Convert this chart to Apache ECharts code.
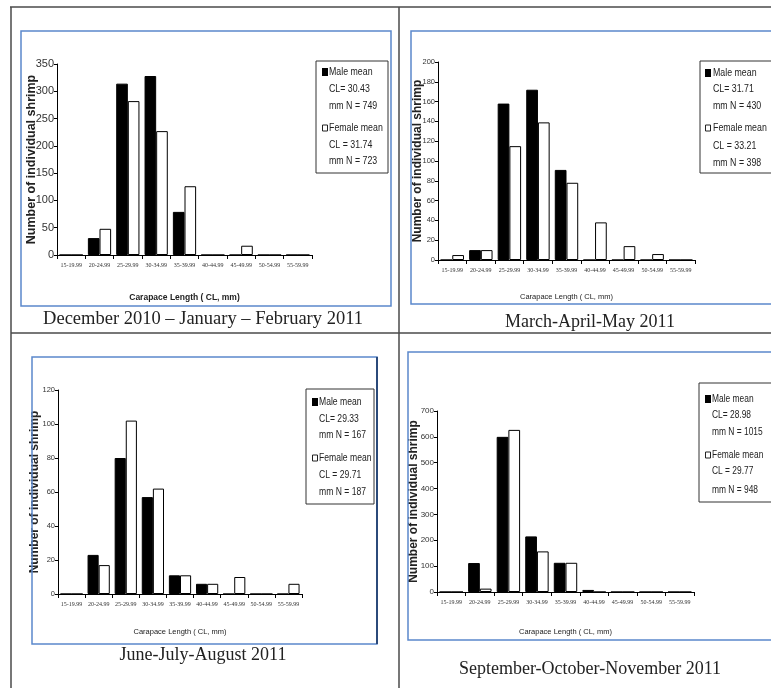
<!DOCTYPE html>
<html>
<head>
<meta charset="utf-8">
<script src="https://cdn.jsdelivr.net/npm/echarts@6/dist/echarts.min.js"></script>
<style>
  html, body { margin: 0; padding: 0; background: #fff; }
  #chart { width: 771px; height: 688px; }
</style>
</head>
<body>
<div id="chart"></div>
<script>
// Carapace-length size classes (mm)
const categories = ['15-19.99', '20-24.99', '25-29.99', '30-34.99', '35-39.99',
                    '40-44.99', '45-49.99', '50-54.99', '55-59.99'];

// Seasonal sampling periods
const seasons = ['December 2010 \u2013 January \u2013 February 2011',
                 'March-April-May 2011',
                 'June-July-August 2011',
                 'September-October-November 2011'];

// Number of shrimp per size class
const maleDecFeb   = [0, 31, 314, 328, 79, 0, 0, 0, 0];
const femaleDecFeb = [0, 48, 282, 227, 126, 0, 17, 0, 0];
const maleMarMay   = [0, 10, 158, 172, 91, 0, 0, 0, 0];
const femaleMarMay = [5, 10, 115, 139, 78, 38, 14, 6, 0];
const maleJunAug   = [0, 23, 80, 57, 11, 6, 0, 0, 0];
const femaleJunAug = [0, 17, 102, 62, 11, 6, 10, 0, 6];
const maleSepNov   = [0, 112, 600, 215, 113, 8, 0, 0, 0];
const femaleSepNov = [0, 13, 627, 157, 113, 0, 0, 0, 0];

// Mean carapace length and sample size per season
const maleMeanCL   = ['30.43', '31.71', '29.33', '28.98'];
const femaleMeanCL = ['31.74', '33.21', '29.71', '29.77'];
const maleN   = [749, 430, 167, 1015];
const femaleN = [723, 398, 187, 948];

// Value-axis ranges
const yMax  = [350, 200, 120, 700];
const yStep = [50, 20, 20, 100];

const maleSeries   = [maleDecFeb, maleMarMay, maleJunAug, maleSepNov];
const femaleSeries = [femaleDecFeb, femaleMarMay, femaleJunAug, femaleSepNov];

// ---- fonts ----
const SANS = '"Liberation Sans", "DejaVu Sans", sans-serif';
const SERIF = '"Liberation Serif", "DejaVu Serif", serif';

// ---- layout of the four table cells ----
const layout = [
  { grid: { left: 57, top: 64, width: 255, height: 191 },
    box: [21, 31, 370, 275], shadeRight: false,
    legend: { box: [316, 61, 72, 112], iconX: 322, textX: 329, font: 11, squeeze: 0.8,
              lines: [72, 89, 106, 128, 145, 161] },
    caption: [203, 319, 18.5],
    yLabelSize: 11, xNameBold: true, xNameSize: 8.5, xNameGap: 38, yNameGap: 19, yNameSize: 12.5 },
  { grid: { left: 438, top: 62, width: 257, height: 198 },
    box: [411, 31, 364, 273], shadeRight: false,
    legend: { box: [700, 61, 75, 112], iconX: 705, textX: 713, font: 11, squeeze: 0.8,
              lines: [73, 89, 106, 128, 146, 163] },
    caption: [590, 322, 18],
    yLabelSize: 7.5, xNameBold: false, xNameSize: 7.5, xNameGap: 33, yNameGap: 14, yNameSize: 12 },
  { grid: { left: 58, top: 390, width: 244, height: 204 },
    box: [32, 357, 345, 287], shadeRight: true,
    legend: { box: [306, 389, 68, 115], iconX: 312, textX: 319, font: 11, squeeze: 0.78,
              lines: [402, 419, 435, 458, 475, 492] },
    caption: [203, 655, 18],
    yLabelSize: 7.5, xNameBold: false, xNameSize: 7.5, xNameGap: 34, yNameGap: 17, yNameSize: 12 },
  { grid: { left: 437, top: 411, width: 257, height: 181 },
    box: [408, 352, 367, 288], shadeRight: false,
    legend: { box: [699, 383, 76, 119], iconX: 705, textX: 712, font: 10.5, squeeze: 0.8,
              lines: [399, 415, 432, 455, 471, 490] },
    caption: [590, 669, 18],
    yLabelSize: 8, xNameBold: false, xNameSize: 7.5, xNameGap: 36, yNameGap: 17, yNameSize: 12 }
];

const grids = [], xAxes = [], yAxes = [], series = [], graphics = [];

// table rules
const rule = { stroke: '#4a4a4a', lineWidth: 1.5 };
[[10, 7, 771, 7], [11, 7, 11, 688], [399, 7, 399, 688], [11, 333, 771, 333]].forEach(s => {
  graphics.push({ type: 'line', shape: { x1: s[0], y1: s[1], x2: s[2], y2: s[3] }, style: rule, z: 1 });
});

layout.forEach((p, i) => {
  grids.push(Object.assign({ containLabel: false }, p.grid));

  xAxes.push({
    type: 'category', gridIndex: i, data: categories, boundaryGap: true,
    axisLine: { show: true, lineStyle: { color: '#000', width: 1 } },
    axisTick: { show: true, length: 4, alignWithLabel: false, lineStyle: { color: '#000' } },
    axisLabel: { interval: 0, fontFamily: SERIF, fontSize: 6, color: '#333', margin: 7 },
    splitLine: { show: false },
    name: 'Carapace Length ( CL, mm)', nameLocation: 'middle', nameGap: p.xNameGap,
    nameMoveOverlap: false,
    nameTextStyle: { fontFamily: SANS, fontSize: p.xNameSize, color: '#222',
                     fontWeight: p.xNameBold ? 'bold' : 'normal' }
  });

  yAxes.push({
    type: 'value', gridIndex: i, min: 0, max: yMax[i], interval: yStep[i],
    axisLine: { show: true, lineStyle: { color: '#000', width: 1 } },
    axisTick: { show: true, length: 3, lineStyle: { color: '#000' } },
    axisLabel: { fontFamily: SANS, fontSize: p.yLabelSize, color: '#333', margin: 3 },
    splitLine: { show: false },
    name: 'Number of individual shrimp', nameLocation: 'middle', nameRotate: 90, nameGap: p.yNameGap,
    nameMoveOverlap: false,
    nameTextStyle: { fontFamily: SANS, fontSize: p.yNameSize, fontWeight: 'bold', color: '#222' }
  });

  series.push({
    name: 'Male', type: 'bar', xAxisIndex: i, yAxisIndex: i, data: maleSeries[i],
    barGap: '0%', barCategoryGap: '18%',
    itemStyle: { color: '#000', borderColor: '#000', borderWidth: 1 }
  });
  series.push({
    name: 'Female', type: 'bar', xAxisIndex: i, yAxisIndex: i, data: femaleSeries[i],
    barGap: '0%', barCategoryGap: '18%',
    itemStyle: { color: '#fff', borderColor: '#000', borderWidth: 1 }
  });

  // blue chart frame
  const b = p.box;
  graphics.push({ type: 'rect', shape: { x: b[0], y: b[1], width: b[2], height: b[3] },
                  style: { fill: 'none', stroke: '#5b88cc', lineWidth: 1.5 }, z: 1 });
  if (p.shadeRight) {
    graphics.push({ type: 'line', shape: { x1: b[0] + b[2], y1: b[1], x2: b[0] + b[2], y2: b[1] + b[3] },
                    style: { stroke: '#2b4a7a', lineWidth: 2 }, z: 1 });
  }

  // legend: frame, swatches and horizontally squeezed text lines
  const L = p.legend;
  graphics.push({ type: 'rect', shape: { x: L.box[0], y: L.box[1], width: L.box[2], height: L.box[3] },
                  style: { fill: '#fff', stroke: '#333', lineWidth: 1 }, z: 2 });
  graphics.push({ type: 'rect', shape: { x: L.iconX, y: L.lines[0] - 4, width: 6, height: 8 },
                  style: { fill: '#000' }, z: 3 });
  graphics.push({ type: 'rect', shape: { x: L.iconX + 0.5, y: L.lines[3] - 3, width: 5, height: 6 },
                  style: { fill: '#fff', stroke: '#222', lineWidth: 1 }, z: 3 });
  const texts = ['Male mean', 'CL= ' + maleMeanCL[i], 'mm N = ' + maleN[i],
                 'Female mean', 'CL = ' + femaleMeanCL[i], 'mm N = ' + femaleN[i]];
  texts.forEach((t, k) => {
    graphics.push({ type: 'text', z: 3, x: L.textX, y: L.lines[k], scaleX: L.squeeze,
      style: { text: t, x: 0, y: 0, fill: '#222',
               font: L.font + 'px ' + SANS, textAlign: 'left', textVerticalAlign: 'middle' } });
  });

  // season caption
  graphics.push({ type: 'text', z: 3,
    style: { text: seasons[i], x: p.caption[0], y: p.caption[1], fill: '#222',
             font: p.caption[2] + 'px ' + SERIF, textAlign: 'center', textVerticalAlign: 'middle' } });
});

const chart = echarts.init(document.getElementById('chart'), null, { renderer: 'canvas' });
chart.setOption({
  backgroundColor: '#fff',
  animation: false,
  grid: grids,
  xAxis: xAxes,
  yAxis: yAxes,
  series: series,
  graphic: { elements: graphics }
});
</script>
</body>
</html>
